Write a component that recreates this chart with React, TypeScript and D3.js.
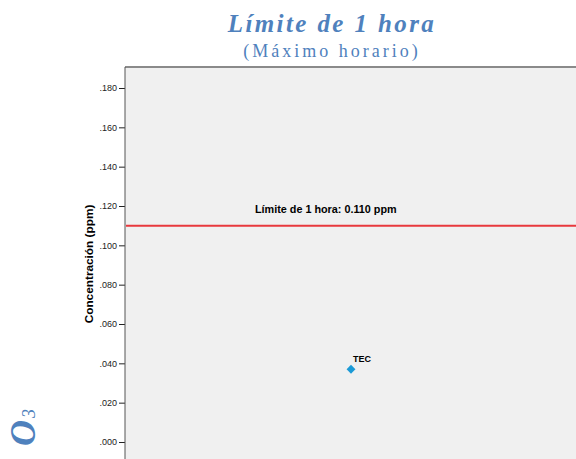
import { useEffect, useRef } from 'react';
import * as d3 from 'd3';

const yTicks = [0, 0.02, 0.04, 0.06, 0.08, 0.1, 0.12, 0.14, 0.16, 0.18];
const stations = ['TEC'];
const stationValues = [0.037];
const limitValue = 0.11;
const limitLabel = 'Límite de 1 hora: 0.110 ppm';

export default function App() {
  const svgRef = useRef<SVGSVGElement>(null);

  useEffect(() => {
    if (!svgRef.current) return;
    const svg = d3.select(svgRef.current);
    svg.selectAll('*').remove();

    const width = 576;
    const height = 459;
    const left = 125;
    const top = 67;

    const y = d3.scaleLinear().domain([0, 0.18]).range([442, 88]);
    const x = d3.scalePoint<string>().domain(stations).range([351, 351]);

    // titles
    svg.append('text')
      .attr('x', 332).attr('y', 32)
      .attr('text-anchor', 'middle')
      .attr('font-family', 'Liberation Serif, serif')
      .attr('font-style', 'italic').attr('font-weight', 'bold')
      .attr('font-size', 25).attr('letter-spacing', 2.4)
      .attr('fill', '#4f81bd')
      .text('Límite de 1 hora');
    svg.append('text')
      .attr('x', 332).attr('y', 57)
      .attr('text-anchor', 'middle')
      .attr('font-family', 'Liberation Serif, serif')
      .attr('font-size', 18).attr('letter-spacing', 3)
      .attr('fill', '#4f81bd')
      .text('(Máximo horario)');

    // O3 side label
    const o3 = svg.append('text')
      .attr('transform', 'translate(35,446) rotate(-90)')
      .attr('font-family', 'Liberation Serif, serif')
      .attr('font-style', 'italic').attr('font-weight', 'bold')
      .attr('font-size', 36)
      .attr('fill', '#4f81bd');
    o3.append('tspan').text('O');
    o3.append('tspan').attr('font-size', 18).attr('font-weight', 'normal').attr('dx', 2).text('3');

    // plot background
    svg.append('rect')
      .attr('x', left).attr('y', top)
      .attr('width', width - left).attr('height', height - top)
      .attr('fill', '#f0f0f0');
    svg.append('line')
      .attr('x1', left).attr('x2', width).attr('y1', top).attr('y2', top)
      .attr('stroke', '#8a8a8a').attr('stroke-width', 2);

    // axis
    const axis = d3.axisLeft(y)
      .tickValues(yTicks)
      .tickSize(6)
      .tickPadding(2)
      .tickFormat(d => d3.format('.3f')(d as number).replace(/^0/, ''));
    const g = svg.append('g').attr('transform', `translate(${left},0)`).call(axis);
    g.select('.domain').remove();
    g.selectAll('.tick line').attr('stroke', '#222');
    g.selectAll('.tick text')
      .attr('font-family', 'Arial, Liberation Sans, sans-serif')
      .attr('font-size', 9).attr('fill', '#222');
    svg.append('line')
      .attr('x1', left).attr('x2', left).attr('y1', top).attr('y2', height)
      .attr('stroke', '#555').attr('stroke-width', 1);

    svg.append('text')
      .attr('transform', 'translate(93,264) rotate(-90)')
      .attr('text-anchor', 'middle')
      .attr('font-family', 'Arial, Liberation Sans, sans-serif')
      .attr('font-weight', 'bold').attr('font-size', 11.8)
      .text('Concentración (ppm)');

    // limit line
    svg.append('line')
      .attr('x1', left + 1).attr('x2', width)
      .attr('y1', y(limitValue)).attr('y2', y(limitValue))
      .attr('stroke', '#e8383d').attr('stroke-width', 2);
    svg.append('text')
      .attr('x', 255).attr('y', y(limitValue) - 13)
      .attr('font-family', 'Arial, Liberation Sans, sans-serif')
      .attr('font-weight', 'bold').attr('font-size', 10.8)
      .text(limitLabel);

    // points
    const sym = d3.symbol().type(d3.symbolDiamond2).size(50);
    stations.forEach((s, i) => {
      const px = x(s) as number;
      const py = y(stationValues[i]);
      svg.append('path')
        .attr('d', sym()!)
        .attr('transform', `translate(${px},${py})`)
        .attr('fill', '#1b9ad6');
      svg.append('text')
        .attr('x', px + 2).attr('y', py - 7)
        .attr('font-family', 'Arial, Liberation Sans, sans-serif')
        .attr('font-weight', 'bold').attr('font-size', 9)
        .text(s);
    });
  }, []);

  return (
    <svg ref={svgRef} width={576} height={459}
      style={{ position: 'absolute', left: 0, top: 0, background: '#fff' }} />
  );
}
